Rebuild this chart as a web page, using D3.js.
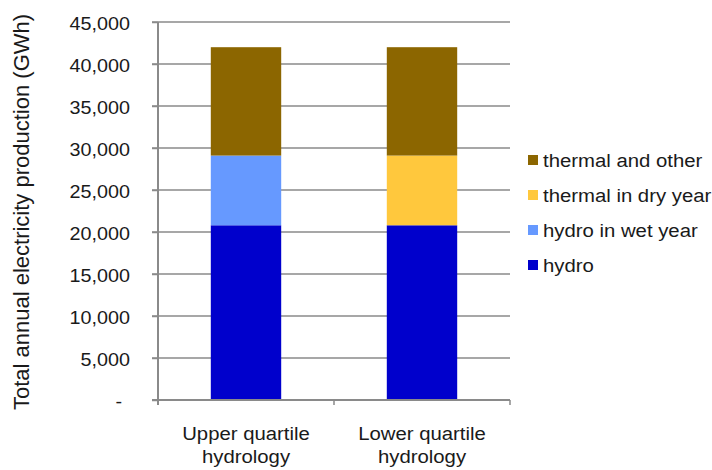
<!DOCTYPE html>
<html>
<head>
<meta charset="utf-8">
<script src="https://cdn.jsdelivr.net/npm/d3@7"></script>
<style>
  html, body { margin: 0; padding: 0; background: #fff; }
  svg { display: block; font-family: "Liberation Sans", Arial, sans-serif; }
</style>
</head>
<body>
<svg id="chart" width="712" height="470"></svg>
<script>
// Scenario categories (two-line labels)
const categories = [["Upper quartile", "hydrology"], ["Lower quartile", "hydrology"]];

// Annual production by source (GWh), stacked bottom to top
const hydro        = [20800, 20800];
const hydroWetYear = [8300, 0];
const thermalDry   = [0, 8300];
const thermalOther = [12900, 12900];

const seriesNames  = ["hydro", "hydro in wet year", "thermal in dry year", "thermal and other"];
const seriesColors = ["#0000cc", "#6699ff", "#ffc83d", "#8c6600"];
const yTicks = [0, 5000, 10000, 15000, 20000, 25000, 30000, 35000, 40000, 45000];

const seriesValues = [hydro, hydroWetYear, thermalDry, thermalOther];
const keys = categories.map((c, i) => i);
const rows = keys.map(i => {
  const r = { idx: i };
  seriesNames.forEach((n, s) => r[n] = seriesValues[s][i]);
  return r;
});

const svg = d3.select("#chart");
const margin = { left: 158, right: 202, top: 22, bottom: 70 };
const W = 712, H = 470;
const plotW = W - margin.left - margin.right;
const plotH = H - margin.top - margin.bottom;

const x = d3.scaleBand().domain(keys).range([0, plotW]).paddingInner(0.6).paddingOuter(0.3);
const xOuter = d3.scaleBand().domain(keys).range([0, plotW]);
const y = d3.scaleLinear().domain([0, 45000]).range([plotH, 0]);

const textColor = "#1a1a1a";
const gridColor = "#8a8a8a";
const stretch = 1.13;   // slightly wide lettering

const g = svg.append("g").attr("transform", `translate(${margin.left},${margin.top})`);

// horizontal gridlines with outer tick marks
g.append("g").selectAll("line").data(yTicks.filter(d => d > 0)).join("line")
  .attr("x1", -6).attr("x2", plotW)
  .attr("y1", d => y(d)).attr("y2", d => y(d))
  .attr("stroke", gridColor).attr("stroke-width", 1.5);

// stacked bars
const stacked = d3.stack().keys(seriesNames)(rows);
g.append("g").selectAll("g").data(stacked).join("g")
  .attr("fill", (d, i) => seriesColors[i])
  .selectAll("rect").data(d => d).join("rect")
  .attr("x", d => x(d.data.idx))
  .attr("width", x.bandwidth())
  .attr("y", d => y(d[1]))
  .attr("height", d => Math.max(0, y(d[0]) - y(d[1])));

// y axis (accounting style: zero shown as a dash)
const yAxis = d3.axisLeft(y).tickValues(yTicks).tickSize(6).tickPadding(22)
  .tickFormat(d => d === 0 ? "-" : d3.format(",")(d));
const ya = g.append("g").call(yAxis);
ya.select(".domain").attr("stroke", gridColor).attr("stroke-width", 2).attr("d", `M0,${plotH + 5}V0`);
ya.selectAll(".tick line").attr("stroke", gridColor).attr("stroke-width", 1.5);
ya.selectAll(".tick text")
  .attr("font-size", 17.5).attr("fill", textColor)
  .attr("font-family", "Liberation Sans, Arial, sans-serif")
  .attr("x", 0).attr("dy", "0.4em")
  .attr("transform", d => `translate(${d === 0 ? -36 : -28},0) scale(${stretch},1)`);

// x axis
const xa = g.append("g").attr("transform", `translate(0,${plotH})`);
xa.append("line").attr("x1", -6).attr("x2", plotW).attr("y1", 0).attr("y2", 0)
  .attr("stroke", gridColor).attr("stroke-width", 2);
xa.selectAll("line.tk").data([0, plotW / 2, plotW]).join("line").attr("class", "tk")
  .attr("x1", d => d).attr("x2", d => d).attr("y1", 0).attr("y2", 5)
  .attr("stroke", gridColor).attr("stroke-width", 1.5);
[0, 1].forEach(line => {
  xa.selectAll(`text.cat${line}`).data(keys).join("text").attr("class", `cat${line}`)
    .attr("transform", d => `translate(${xOuter(d) + xOuter.bandwidth() / 2},${line ? 63 : 40}) scale(${stretch},1)`)
    .attr("text-anchor", "middle").attr("font-size", 18).attr("fill", textColor)
    .text(d => categories[d][line]);
});

// y axis title
svg.append("text")
  .attr("transform", `translate(29,${margin.top + plotH / 2 + 1}) rotate(-90)`)
  .attr("text-anchor", "middle").attr("font-size", 22).attr("fill", textColor)
  .text("Total annual electricity production (GWh)");

// legend (top to bottom: reverse of stack order)
const legendItems = seriesNames.map((n, i) => ({ n, c: seriesColors[i] })).reverse();
const lg = svg.append("g").attr("transform", "translate(528,155)");
const li = lg.selectAll("g").data(legendItems).join("g")
  .attr("transform", (d, i) => `translate(0,${i * 35})`);
li.append("rect").attr("width", 10).attr("height", 10).attr("fill", d => d.c);
li.append("text").attr("transform", `translate(15,12) scale(${stretch},1)`)
  .attr("font-size", 18).attr("fill", textColor).text(d => d.n);
</script>
</body>
</html>
